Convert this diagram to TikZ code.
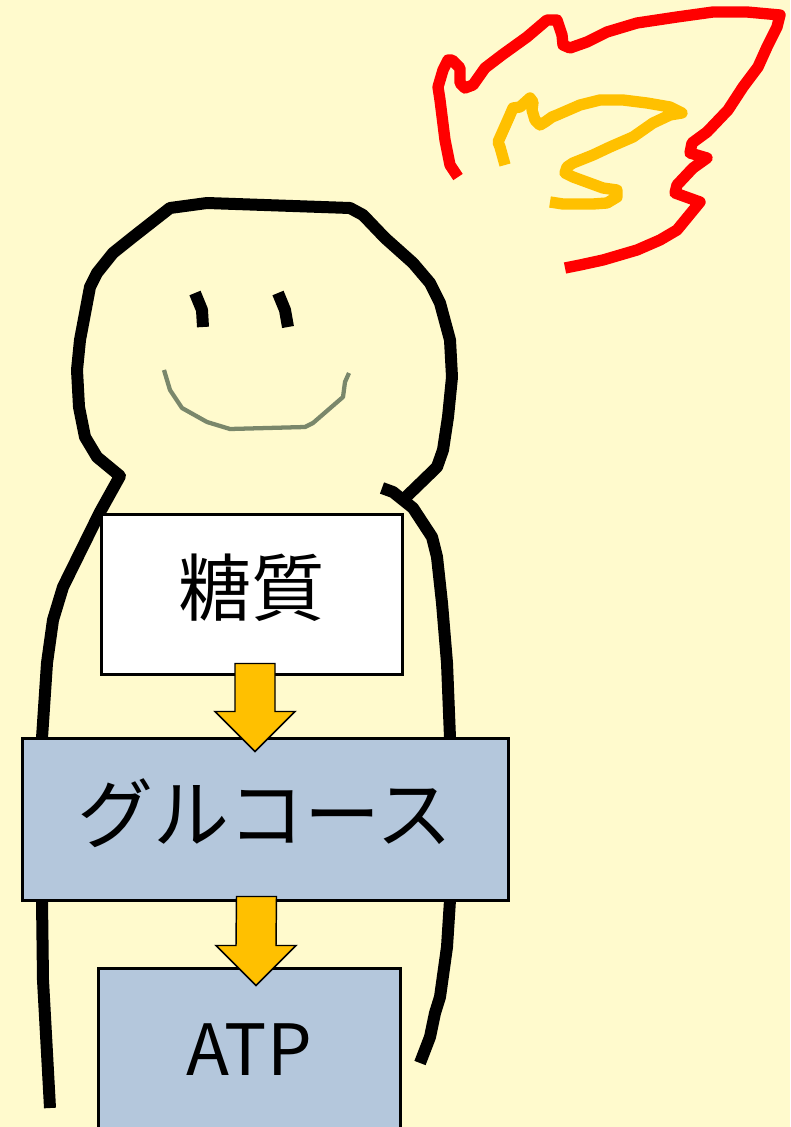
\documentclass[tikz,border=0pt]{standalone}
\usepackage{fontspec}
\setmainfont{Noto Sans CJK JP}
\usetikzlibrary{calc}

\definecolor{paper}{RGB}{255,250,205}
\definecolor{boxblue}{RGB}{180,199,220}
\definecolor{gold}{RGB}{255,192,0}
\definecolor{flamered}{RGB}{255,0,0}
\definecolor{mouthgreen}{RGB}{122,135,107}

\tikzset{
  outline/.style={line width=9pt, line join=round},
  mouthline/.style={draw=mouthgreen, line width=3.2pt, line join=round},
  flameline/.style={line width=8.5pt, line join=round},
  stepbox/.style={draw=black, line width=2.25pt, inner sep=0pt, align=center},
  blockarrow/.style={fill=gold, draw=black, line width=1.1pt, line join=miter},
}

% block arrow from shaft top (#1) to tip (#2), both on one vertical line
\newcommand\downblockarrow[2]{%
  \draw[blockarrow] ($(#1)+(-20,0)$) -- ($(#1)+(20,0)$) -- ($(#2)+(20,-40)$)
    -- ($(#2)+(40,-40)$) -- (#2) -- ($(#2)+(-40,-40)$) -- ($(#2)+(-20,-40)$) -- cycle;}

\begin{document}
\begin{tikzpicture}[x=0.75pt, y=-0.75pt]
\useasboundingbox (0,0) rectangle (790,1127);
\clip (0,0) rectangle (790,1127);
\fill[paper] (0,0) rectangle (790,1127);

% flame: red outer lick
\draw[flameline, draw=flamered]
  (458,177) -- (450,165) -- (445,140) -- (440,100) -- (438,87) -- (443,70) -- (448,60)
  -- (452,60) -- (460,68) -- (460,83) -- (465,88) -- (473,85) -- (485,68) -- (502,55)
  -- (527,37) -- (547,20) -- (557,20) -- (562,35) -- (563,45) -- (570,48) -- (587,42)
  -- (607,32) -- (637,23) -- (677,17) -- (713,12) -- (747,12) -- (780,15) -- (777,27)
  -- (767,47) -- (758,67) -- (743,87) -- (728,110) -- (707,132) -- (692,143) -- (690,153)
  -- (707,158) -- (693,168) -- (677,185) -- (675,193) -- (700,202) -- (677,230)
  -- (660,240) -- (637,250) -- (603,260) -- (580,265) -- (565,268);

% flame: gold inner lick
\draw[flameline, draw=gold]
  (505,165) -- (500,147) -- (498,142) -- (510,115) -- (513,108) -- (520,107) -- (530,98)
  -- (533,102) -- (532,110) -- (535,120) -- (540,125) -- (545,122) -- (552,117)
  -- (557,115) -- (580,105) -- (600,100) -- (623,100) -- (647,103) -- (670,107)
  -- (682,113) -- (670,115) -- (653,123) -- (633,137) -- (610,147) -- (593,155)
  -- (573,163) -- (567,167) -- (565,173) -- (573,177) -- (603,188) -- (617,190)
  -- (617,197) -- (607,203) -- (593,204) -- (563,204) -- (550,202);

% figure: left side of body, head, down to right shoulder
\draw[outline]
  (50,1108) -- (47,1053) -- (43,980) -- (42,900) -- (42,738) -- (47,663) -- (53,620)
  -- (63,587) -- (100,512) -- (120,476) -- (97,457) -- (85,437) -- (79,407) -- (77,370)
  -- (80,340) -- (90,287) -- (97,273) -- (113,253) -- (133,237) -- (170,208) -- (207,203)
  -- (350,208) -- (363,215) -- (385,238) -- (413,263) -- (430,283) -- (440,303)
  -- (450,340) -- (452,377) -- (448,417) -- (443,450) -- (437,467) -- (405,498);

% figure: right side of body
\draw[outline]
  (382,488) -- (393,492) -- (403,500) -- (413,508) -- (432,537) -- (437,557) -- (442,603)
  -- (447,663) -- (450,738) -- (450,900) -- (447,947) -- (440,997) -- (435,1013)
  -- (430,1037) -- (420,1063);

% face
\draw[outline] (195,293) -- (202,310) -- (203,327);
\draw[outline] (278,293) -- (285,310) -- (288,327);
\draw[mouthline]
  (164,370) -- (170,390) -- (182,408) -- (207,422) -- (230,429) -- (305,427) -- (313,423)
  -- (343,397) -- (345,382) -- (349,373);

% boxes
\node[stepbox, fill=white, minimum width=225.75pt, minimum height=120pt,
  font=\fontsize{55pt}{60pt}\selectfont, text height=48.4pt, text depth=15.6pt]
  (sugar) at (251.5,594) {糖質};
\node[stepbox, fill=boxblue, minimum width=364.5pt, minimum height=121.5pt,
  font=\fontsize{57pt}{60pt}\selectfont, text height=50.2pt, text depth=14.8pt]
  (glucose) at (265,819) {グルコース};
\node[stepbox, fill=boxblue, font=\fontsize{53pt}{60pt}\selectfont,
  minimum width=226.5pt, minimum height=123pt]
  (atp) at (249,1050) {ATP};

% arrows between the boxes
\coordinate (a1s) at ($(sugar.south)+(3.5,-12)$);
\coordinate (a1t) at ($(glucose.north)+(-10,15)$);
\downblockarrow{a1s}{a1t}
\coordinate (a2s) at ($(glucose.south)+(-8.5,-5)$);
\coordinate (a2t) at ($(atp.north)+(7,19)$);
\downblockarrow{a2s}{a2t}
\end{tikzpicture}
\end{document}
